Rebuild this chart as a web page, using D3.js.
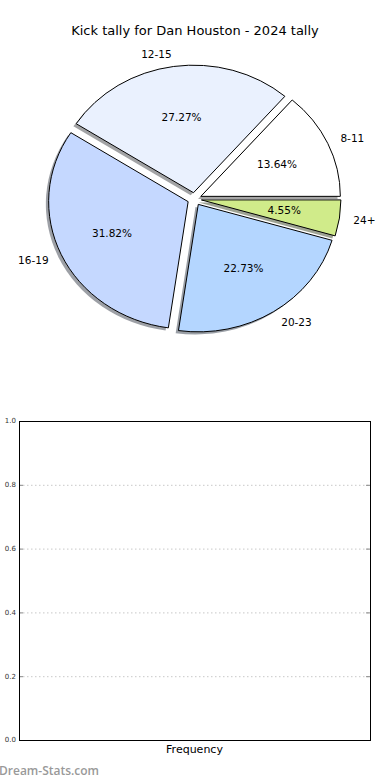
<!DOCTYPE html>
<html><head><meta charset="utf-8">
<script src="https://cdn.jsdelivr.net/npm/d3@7"></script>
<style>body{margin:0;background:#fff}svg{display:block}text{font-family:"DejaVu Sans",sans-serif}</style>
</head><body>
<script>
const title = "Kick tally for Dan Houston - 2024 tally";
const categories = ["8-11","12-15","16-19","20-23","24+"];
const values = [3,6,7,5,1];
const colors = ["#ffffff","#eaf1fe","#c5d8ff","#b4d6ff","#d0eb8a"];
const yTicks = [0.0,0.2,0.4,0.6,0.8,1.0];
const xLabel = "Frequency";
const watermark = "Dream-Stats.com";

const W=390,H=780;
const svg=d3.select("body").append("svg").attr("width",W).attr("height",H);

svg.append("text").attr("x",195).attr("y",35).attr("text-anchor","middle")
  .attr("font-size",13).attr("fill","#000").text(title);

// pie
const cx=194.5, cy=199, rx=139.5, ry=127.5, explode=0.05;
const total=d3.sum(values);
const pie=d3.pie().sort(null).startAngle(Math.PI/2).endAngle(Math.PI/2-2*Math.PI);
const arcs=pie(values);
const arc=d3.arc().innerRadius(0).outerRadius(1);
const pg=svg.append("g").attr("transform",`translate(${cx},${cy}) scale(${rx},${ry})`);
function off(d,k){const a=(d.startAngle+d.endAngle)/2;return [k*Math.sin(a),-k*Math.cos(a)];}
// shadows
pg.selectAll("path.sh").data(arcs).join("path").attr("class","sh")
  .attr("d",arc)
  .attr("transform",d=>{const o=off(d,explode);return `translate(${o[0]-0.02},${o[1]+0.02})`;})
  .attr("fill",(d,i)=>{const c=d3.rgb(colors[i]);return d3.rgb(c.r*0.3,c.g*0.3,c.b*0.3);})
  .attr("fill-opacity",0.5);
pg.selectAll("path.w").data(arcs).join("path").attr("class","w")
  .attr("d",arc)
  .attr("transform",d=>{const o=off(d,explode);return `translate(${o[0]},${o[1]})`;})
  .attr("fill",(d,i)=>colors[i]).attr("stroke","#000").attr("stroke-width",1)
  .attr("vector-effect","non-scaling-stroke").attr("stroke-linejoin","round");
// labels
arcs.forEach((d,i)=>{
  const a=(d.startAngle+d.endAngle)/2, s=Math.sin(a), c=-Math.cos(a);
  const lx=cx+(explode+1.1)*s*rx, ly=cy+(explode+1.1)*c*ry;
  svg.append("text").attr("x",lx).attr("y",ly).attr("dy","0.35em")
    .attr("text-anchor",s>0?"start":"end").attr("font-size",10.5).text(categories[i]);
  const px=cx+(explode+0.6)*s*rx, py=cy+(explode+0.6)*c*ry;
  svg.append("text").attr("x",px).attr("y",py).attr("dy","0.35em")
    .attr("text-anchor","middle").attr("font-size",10.5).text((values[i]/total*100).toFixed(2)+"%");
});

// empty bar chart
const L=19,R=370,T=421,B=740;
const y=d3.scaleLinear().domain([0,1]).range([B,T]);
const g=svg.append("g");
g.selectAll("line.grid").data(yTicks).join("line").attr("class","grid")
  .attr("x1",L).attr("x2",R).attr("y1",d=>y(d)+0.5).attr("y2",d=>y(d)+0.5)
  .attr("stroke","#c8c8c8").attr("stroke-dasharray","1.5,2.5");
g.selectAll("line.tl").data(yTicks).join("line").attr("class","tl")
  .attr("x1",L).attr("x2",L+4).attr("y1",d=>y(d)+0.5).attr("y2",d=>y(d)+0.5).attr("stroke","#888");
g.selectAll("line.tr").data(yTicks).join("line").attr("class","tr")
  .attr("x1",R-4).attr("x2",R).attr("y1",d=>y(d)+0.5).attr("y2",d=>y(d)+0.5).attr("stroke","#888");
g.selectAll("text.yt").data(yTicks).join("text").attr("class","yt")
  .attr("x",L-3).attr("y",d=>y(d)).attr("dy","0.35em").attr("text-anchor","end")
  .attr("font-size",7).attr("fill","#333").text(d=>d3.format(".1f")(d));
g.append("rect").attr("x",L+0.5).attr("y",T+0.5).attr("width",R-L).attr("height",B-T)
  .attr("fill","none").attr("stroke","#000").attr("stroke-width",1);
g.append("text").attr("x",(L+R)/2).attr("y",753).attr("text-anchor","middle")
  .attr("font-size",11).text(xLabel);

svg.append("text").attr("x",-1).attr("y",775).attr("font-size",12).attr("font-weight",600)
  .style("font-family","'Open Sans',sans-serif")
  .attr("fill","#999").text(watermark);
</script>
</body></html>
